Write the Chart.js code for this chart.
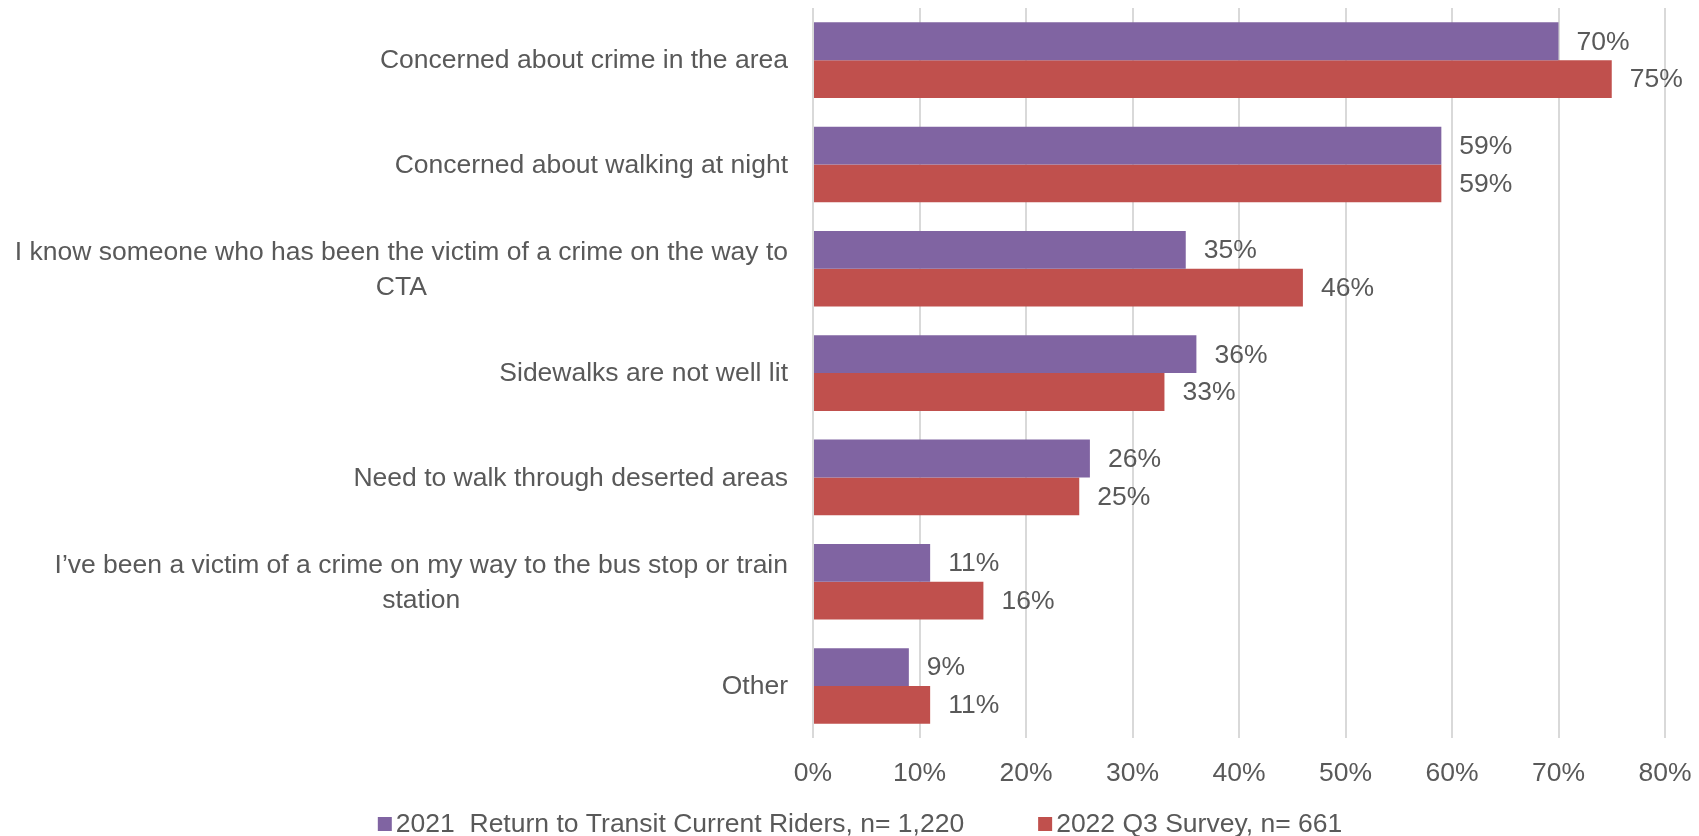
<!DOCTYPE html>
<html>
<head>
<meta charset="utf-8">
<title>Safety concerns on the way to CTA</title>
<script src="https://cdn.jsdelivr.net/npm/chart.js@4.4.1/dist/chart.umd.min.js"></script>
<style>
  html, body { margin: 0; padding: 0; background: #fff; }
  #wrap { width: 1699px; height: 836px; }
</style>
</head>
<body>
<div id="wrap"><canvas id="concernsBar" width="1699" height="836"></canvas></div>
<script>
// categories, top to bottom; long ones are split into their wrapped lines
const categories = [
  ['Concerned about crime in the area'],
  ['Concerned about walking at night'],
  ['I know someone who has been the victim of a crime on the way to', 'CTA'],
  ['Sidewalks are not well lit'],
  ['Need to walk through deserted areas'],
  ['I\u2019ve been a victim of a crime on my way to the bus stop or train', 'station'],
  ['Other']
];

const riders2021 = [70, 59, 35, 36, 26, 11, 9];
const survey2022 = [75, 59, 46, 33, 25, 16, 11];

const seriesNames = ['2021  Return to Transit Current Riders, n= 1,220', '2022 Q3 Survey, n= 661'];
const seriesColors = ['#8064A2', '#C0504D'];

const xTicks = [0, 10, 20, 30, 40, 50, 60, 70, 80];

const FONT = '"Liberation Sans", Arial, sans-serif';
const FONT_SIZE = 26.5;
const TEXT = '#595959';
const LINE_H = 35;

// category labels: block right-aligned to the axis, lines centred inside the block
const yLabels = {
  id: 'yLabels',
  afterDraw(chart) {
    const { ctx, chartArea, scales: { y } } = chart;
    ctx.save();
    ctx.font = FONT_SIZE + 'px ' + FONT;
    ctx.fillStyle = TEXT;
    ctx.textAlign = 'center';
    ctx.textBaseline = 'middle';
    categories.forEach((lines, i) => {
      const cy = y.getPixelForValue(i) + 1;
      const widest = Math.max(...lines.map(l => ctx.measureText(l).width));
      const cx = chartArea.left - 25 - widest / 2;
      const top = cy - (lines.length - 1) * LINE_H / 2;
      lines.forEach((l, j) => ctx.fillText(l, cx, top + j * LINE_H));
    });
    ctx.restore();
  }
};

// percentage labels just past the end of each bar
const barValues = {
  id: 'barValues',
  afterDatasetsDraw(chart) {
    const { ctx } = chart;
    ctx.save();
    ctx.font = FONT_SIZE + 'px ' + FONT;
    ctx.fillStyle = TEXT;
    ctx.textAlign = 'left';
    ctx.textBaseline = 'middle';
    chart.data.datasets.forEach((ds, di) => {
      chart.getDatasetMeta(di).data.forEach((bar, i) => {
        ctx.fillText(ds.data[i] + '%', bar.x + 18, bar.y + 1);
      });
    });
    ctx.restore();
  }
};

// legend row under the axis
const bottomLegend = {
  id: 'bottomLegend',
  afterDraw(chart) {
    const { ctx } = chart;
    const box = 14, gap = 4, itemGap = 74, cy = 824;
    ctx.save();
    ctx.font = FONT_SIZE + 'px ' + FONT;
    ctx.textBaseline = 'middle';
    ctx.textAlign = 'left';
    const widths = seriesNames.map(n => box + gap + ctx.measureText(n).width);
    const total = widths.reduce((a, b) => a + b, 0) + itemGap * (widths.length - 1);
    let x = 860 - total / 2;
    seriesNames.forEach((name, i) => {
      ctx.fillStyle = seriesColors[i];
      ctx.fillRect(x, cy - box / 2, box, box);
      ctx.fillStyle = TEXT;
      ctx.fillText(name, x + box + gap, cy + 1);
      x += widths[i] + itemGap;
    });
    ctx.restore();
  }
};

const ctx = document.getElementById('concernsBar').getContext('2d');
new Chart(ctx, {
  type: 'bar',
  data: {
    labels: categories.map(c => c.join(' ')),
    datasets: [
      { label: seriesNames[0], data: riders2021, backgroundColor: seriesColors[0] },
      { label: seriesNames[1], data: survey2022, backgroundColor: seriesColors[1] }
    ]
  },
  options: {
    indexAxis: 'y',
    responsive: false,
    animation: false,
    devicePixelRatio: 1,
    layout: { padding: { top: 8, right: 34, left: 0, bottom: 26 } },
    datasets: {
      bar: { categoryPercentage: 0.725, barPercentage: 1.0 }
    },
    scales: {
      x: {
        min: 0,
        max: 80,
        afterBuildTicks: scale => { scale.ticks = xTicks.map(v => ({ value: v })); },
        // let the last tick label hang into the right padding
        afterFit: scale => { scale.paddingRight = 0; },
        grid: { color: '#D9D9D9', lineWidth: 2, drawTicks: false },
        border: { display: false },
        ticks: {
          padding: 20,
          color: TEXT,
          font: { family: FONT, size: FONT_SIZE },
          callback: v => v + '%'
        }
      },
      y: {
        grid: { display: false },
        border: { display: false },
        ticks: { display: false },
        afterFit: scale => { scale.width = 813; }
      }
    },
    plugins: {
      legend: { display: false },
      tooltip: { enabled: false }
    }
  },
  plugins: [yLabels, barValues, bottomLegend]
});
</script>
</body>
</html>
